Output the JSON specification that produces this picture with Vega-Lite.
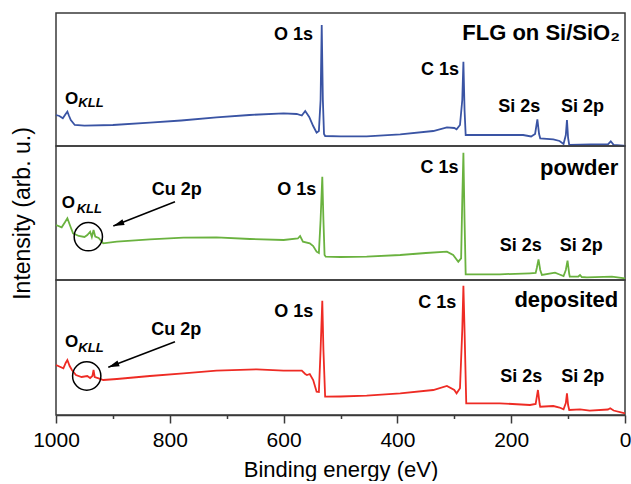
{
  "$schema": "https://vega.github.io/schema/vega-lite/v6.json",
  "background": "white",
  "padding": {"left": 10, "top": 12, "right": 5, "bottom": 0},
  "spacing": 0,
  "bounds": "flush",
  "config": {
    "concat": {"spacing": 0},
    "view": {"stroke": "#3a3a3a", "strokeWidth": 1.5},
    "font": "Liberation Sans",
    "text": {"font": "Liberation Sans", "color": "#000"},
    "axis": {"labelFont": "Liberation Sans", "titleFont": "Liberation Sans", "labelColor": "#000", "titleColor": "#000", "titleFontWeight": "normal", "domainColor": "#3a3a3a", "tickColor": "#3a3a3a", "grid": false}
  },
  "datasets": {
    "spectra": [
      {"sample":"FLG","energy":1000,"intensity":31},{"sample":"FLG","energy":994,"intensity":30},{"sample":"FLG","energy":988,"intensity":27.7},{"sample":"FLG","energy":983,"intensity":32},{"sample":"FLG","energy":980,"intensity":34.3},{"sample":"FLG","energy":977,"intensity":30},{"sample":"FLG","energy":974,"intensity":26},{"sample":"FLG","energy":967,"intensity":21},{"sample":"FLG","energy":950,"intensity":20.3},{"sample":"FLG","energy":900,"intensity":21},{"sample":"FLG","energy":835,"intensity":23.3},{"sample":"FLG","energy":780,"intensity":25.5},{"sample":"FLG","energy":718,"intensity":28.7},{"sample":"FLG","energy":660,"intensity":31},{"sample":"FLG","energy":600,"intensity":32.7},{"sample":"FLG","energy":577,"intensity":32},{"sample":"FLG","energy":568,"intensity":30.5},{"sample":"FLG","energy":562,"intensity":35},{"sample":"FLG","energy":555,"intensity":29},{"sample":"FLG","energy":548,"intensity":20},{"sample":"FLG","energy":542,"intensity":13.3},{"sample":"FLG","energy":538,"intensity":15},{"sample":"FLG","energy":535,"intensity":46},{"sample":"FLG","energy":533,"intensity":121},{"sample":"FLG","energy":531,"intensity":46},{"sample":"FLG","energy":529,"intensity":12},{"sample":"FLG","energy":527,"intensity":10},{"sample":"FLG","energy":500,"intensity":9.7},{"sample":"FLG","energy":454,"intensity":9.7},{"sample":"FLG","energy":395,"intensity":11.7},{"sample":"FLG","energy":337,"intensity":15},{"sample":"FLG","energy":313,"intensity":18.7},{"sample":"FLG","energy":300,"intensity":18},{"sample":"FLG","energy":296,"intensity":16.7},{"sample":"FLG","energy":290,"intensity":21},{"sample":"FLG","energy":286,"intensity":46},{"sample":"FLG","energy":284,"intensity":84.3},{"sample":"FLG","energy":282,"intensity":36},{"sample":"FLG","energy":280,"intensity":11},{"sample":"FLG","energy":250,"intensity":11},{"sample":"FLG","energy":220,"intensity":11},{"sample":"FLG","energy":179,"intensity":11},{"sample":"FLG","energy":165,"intensity":9.5},{"sample":"FLG","energy":158,"intensity":12},{"sample":"FLG","energy":154,"intensity":26.7},{"sample":"FLG","energy":151,"intensity":12},{"sample":"FLG","energy":149,"intensity":7.7},{"sample":"FLG","energy":126,"intensity":6.7},{"sample":"FLG","energy":115,"intensity":5},{"sample":"FLG","energy":108,"intensity":2},{"sample":"FLG","energy":104,"intensity":11},{"sample":"FLG","energy":102,"intensity":26},{"sample":"FLG","energy":100,"intensity":8},{"sample":"FLG","energy":98,"intensity":1},{"sample":"FLG","energy":60,"intensity":1.5},{"sample":"FLG","energy":30,"intensity":1.7},{"sample":"FLG","energy":25,"intensity":4.7},{"sample":"FLG","energy":20,"intensity":1.2},{"sample":"FLG","energy":3,"intensity":0.3},{"sample":"FLG","energy":0,"intensity":0},
      {"sample":"powder","energy":1000,"intensity":55},{"sample":"powder","energy":990,"intensity":52.7},{"sample":"powder","energy":984,"intensity":58},{"sample":"powder","energy":980,"intensity":61.7},{"sample":"powder","energy":975,"intensity":54},{"sample":"powder","energy":970,"intensity":46.7},{"sample":"powder","energy":960,"intensity":44},{"sample":"powder","energy":950,"intensity":43},{"sample":"powder","energy":945,"intensity":45},{"sample":"powder","energy":940,"intensity":48.3},{"sample":"powder","energy":937,"intensity":43},{"sample":"powder","energy":934,"intensity":50},{"sample":"powder","energy":931,"intensity":43.3},{"sample":"powder","energy":925,"intensity":42},{"sample":"powder","energy":917,"intensity":36.7},{"sample":"powder","energy":893,"intensity":38.3},{"sample":"powder","energy":835,"intensity":40.7},{"sample":"powder","energy":776,"intensity":42.3},{"sample":"powder","energy":718,"intensity":42.7},{"sample":"powder","energy":659,"intensity":41},{"sample":"powder","energy":600,"intensity":40},{"sample":"powder","energy":575,"intensity":41.5},{"sample":"powder","energy":571,"intensity":44},{"sample":"powder","energy":566,"intensity":38.3},{"sample":"powder","energy":554,"intensity":36.7},{"sample":"powder","energy":548,"intensity":34},{"sample":"powder","energy":542,"intensity":28.3},{"sample":"powder","energy":538,"intensity":27},{"sample":"powder","energy":535,"intensity":60},{"sample":"powder","energy":532,"intensity":103.3},{"sample":"powder","energy":530,"intensity":60},{"sample":"powder","energy":528,"intensity":25},{"sample":"powder","energy":526,"intensity":23.3},{"sample":"powder","energy":500,"intensity":23},{"sample":"powder","energy":454,"intensity":23.3},{"sample":"powder","energy":395,"intensity":25},{"sample":"powder","energy":350,"intensity":27},{"sample":"powder","energy":313,"intensity":28.3},{"sample":"powder","energy":302,"intensity":25},{"sample":"powder","energy":293,"intensity":18.3},{"sample":"powder","energy":288,"intensity":21.7},{"sample":"powder","energy":286,"intensity":80},{"sample":"powder","energy":284,"intensity":127.3},{"sample":"powder","energy":282,"intensity":60},{"sample":"powder","energy":280,"intensity":5.7},{"sample":"powder","energy":250,"intensity":5.7},{"sample":"powder","energy":220,"intensity":5.7},{"sample":"powder","energy":167,"intensity":6.7},{"sample":"powder","energy":157,"intensity":7},{"sample":"powder","energy":155,"intensity":12},{"sample":"powder","energy":152,"intensity":20.7},{"sample":"powder","energy":149,"intensity":10},{"sample":"powder","energy":146,"intensity":5},{"sample":"powder","energy":123,"intensity":7.3},{"sample":"powder","energy":115,"intensity":5.5},{"sample":"powder","energy":108,"intensity":4},{"sample":"powder","energy":104,"intensity":10},{"sample":"powder","energy":101,"intensity":19.3},{"sample":"powder","energy":98,"intensity":6},{"sample":"powder","energy":97,"intensity":3.3},{"sample":"powder","energy":82,"intensity":3.5},{"sample":"powder","energy":79,"intensity":5},{"sample":"powder","energy":76,"intensity":3},{"sample":"powder","energy":67,"intensity":2.7},{"sample":"powder","energy":23,"intensity":3.3},{"sample":"powder","energy":0,"intensity":1.7},
      {"sample":"deposited","energy":1000,"intensity":50},{"sample":"deposited","energy":987,"intensity":46.7},{"sample":"deposited","energy":983,"intensity":52},{"sample":"deposited","energy":980,"intensity":55},{"sample":"deposited","energy":976,"intensity":49},{"sample":"deposited","energy":972,"intensity":45},{"sample":"deposited","energy":965,"intensity":40},{"sample":"deposited","energy":955,"intensity":38},{"sample":"deposited","energy":945,"intensity":39},{"sample":"deposited","energy":940,"intensity":37},{"sample":"deposited","energy":936,"intensity":39},{"sample":"deposited","energy":934,"intensity":45},{"sample":"deposited","energy":932,"intensity":38},{"sample":"deposited","energy":925,"intensity":36.7},{"sample":"deposited","energy":917,"intensity":35},{"sample":"deposited","energy":893,"intensity":36},{"sample":"deposited","energy":835,"intensity":39},{"sample":"deposited","energy":776,"intensity":41.7},{"sample":"deposited","energy":718,"intensity":44.3},{"sample":"deposited","energy":647,"intensity":45.7},{"sample":"deposited","energy":600,"intensity":44.3},{"sample":"deposited","energy":568,"intensity":44.3},{"sample":"deposited","energy":562,"intensity":41},{"sample":"deposited","energy":559,"intensity":40},{"sample":"deposited","energy":554,"intensity":41},{"sample":"deposited","energy":548,"intensity":35},{"sample":"deposited","energy":542,"intensity":23.3},{"sample":"deposited","energy":538,"intensity":23},{"sample":"deposited","energy":535,"intensity":65},{"sample":"deposited","energy":532,"intensity":114.3},{"sample":"deposited","energy":530,"intensity":65},{"sample":"deposited","energy":527,"intensity":18.3},{"sample":"deposited","energy":500,"intensity":18.5},{"sample":"deposited","energy":454,"intensity":19.3},{"sample":"deposited","energy":395,"intensity":21.7},{"sample":"deposited","energy":337,"intensity":25},{"sample":"deposited","energy":313,"intensity":29},{"sample":"deposited","energy":300,"intensity":25},{"sample":"deposited","energy":296,"intensity":21.7},{"sample":"deposited","energy":290,"intensity":26.7},{"sample":"deposited","energy":286,"intensity":85},{"sample":"deposited","energy":284,"intensity":129.3},{"sample":"deposited","energy":282,"intensity":85},{"sample":"deposited","energy":279,"intensity":11.7},{"sample":"deposited","energy":220,"intensity":11.7},{"sample":"deposited","energy":167,"intensity":10},{"sample":"deposited","energy":157,"intensity":11},{"sample":"deposited","energy":153,"intensity":25},{"sample":"deposited","energy":150,"intensity":11},{"sample":"deposited","energy":149,"intensity":8.3},{"sample":"deposited","energy":126,"intensity":9},{"sample":"deposited","energy":115,"intensity":7.5},{"sample":"deposited","energy":108,"intensity":5.7},{"sample":"deposited","energy":104,"intensity":12},{"sample":"deposited","energy":102,"intensity":21.7},{"sample":"deposited","energy":100,"intensity":10},{"sample":"deposited","energy":98,"intensity":5},{"sample":"deposited","energy":79,"intensity":5.7},{"sample":"deposited","energy":62,"intensity":4.3},{"sample":"deposited","energy":30,"intensity":5.5},{"sample":"deposited","energy":26,"intensity":6.7},{"sample":"deposited","energy":20,"intensity":4.5},{"sample":"deposited","energy":0,"intensity":1.7}
    ],
    "peaks": [
      {"sample":"FLG","label":"O 1s","energy":582.6,"intensity":106},
      {"sample":"FLG","label":"C 1s","energy":325.1,"intensity":71},
      {"sample":"FLG","label":"Si 2s","energy":185.8,"intensity":34.3},
      {"sample":"FLG","label":"Si 2p","energy":74.7,"intensity":34.3},
      {"sample":"powder","label":"O 1s","energy":577,"intensity":85},
      {"sample":"powder","label":"Cu 2p","energy":787.9,"intensity":85},
      {"sample":"powder","label":"C 1s","energy":326,"intensity":106.7},
      {"sample":"powder","label":"Si 2s","energy":183.1,"intensity":29.3},
      {"sample":"powder","label":"Si 2p","energy":76.8,"intensity":29.3},
      {"sample":"deposited","label":"O 1s","energy":582.3,"intensity":97.7},
      {"sample":"deposited","label":"Cu 2p","energy":788.8,"intensity":80},
      {"sample":"deposited","label":"C 1s","energy":330,"intensity":106.7},
      {"sample":"deposited","label":"Si 2s","energy":182.2,"intensity":33.3},
      {"sample":"deposited","label":"Si 2p","energy":74.2,"intensity":33.3}
    ],
    "titles": [
      {"sample":"FLG","label":"FLG on Si/SiO₂","energy":8.8,"intensity":106},
      {"sample":"powder","label":"powder","energy":11.8,"intensity":105},
      {"sample":"deposited","label":"deposited","energy":11.8,"intensity":107.7}
    ],
    "okllMain": [
      {"sample":"FLG","label":"O","energy":984.2,"intensity":42},
      {"sample":"powder","label":"O","energy":990,"intensity":71.7},
      {"sample":"deposited","label":"O","energy":984.2,"intensity":68.3}
    ],
    "okllSub": [
      {"sample":"FLG","label":"KLL","energy":960.8,"intensity":38.7},
      {"sample":"powder","label":"KLL","energy":963.6,"intensity":67.3},
      {"sample":"deposited","label":"KLL","energy":960.8,"intensity":63.3}
    ],
    "arrows": [
      {"sample":"powder","energy":899.3,"intensity":54,"energy2":790.9,"intensity2":78.3},
      {"sample":"deposited","energy":908.1,"intensity":47.7,"energy2":790.9,"intensity2":73.3}
    ],
    "circles": [
      {"sample":"powder","energy":943.2,"intensity":43.3},
      {"sample":"deposited","energy":946,"intensity":39}
    ]
  },
  "vconcat": [
    {
      "width": 569, "height": 133,
      "encoding": {
        "x": {"field":"energy","type":"quantitative","scale":{"domain":[0,1000],"reverse":true,"nice":false},"axis":null},
        "y": {"field":"intensity","type":"quantitative","scale":{"domain":[0,133],"nice":false,"zero":false},"axis":null}
      },
      "layer": [
        {"data":{"name":"spectra"},"transform":[{"filter":"datum.sample === 'FLG'"}],"mark":{"type":"line","color":"#3a54a4","strokeWidth":1.8},"encoding":{}},
        {"data":{"name":"peaks"},"transform":[{"filter":"datum.sample === 'FLG'"}],"mark":{"type":"text","fontWeight":"bold","fontSize":18,"align":"center","baseline":"alphabetic"},"encoding":{"text":{"field":"label"}}},
        {"data":{"name":"titles"},"transform":[{"filter":"datum.sample === 'FLG'"}],"mark":{"type":"text","fontWeight":"bold","fontSize":22,"align":"right","baseline":"alphabetic"},"encoding":{"text":{"field":"label"}}},
        {"data":{"name":"okllMain"},"transform":[{"filter":"datum.sample === 'FLG'"}],"mark":{"type":"text","fontWeight":"bold","fontSize":17,"align":"left","baseline":"alphabetic"},"encoding":{"text":{"field":"label"}}},
        {"data":{"name":"okllSub"},"transform":[{"filter":"datum.sample === 'FLG'"}],"mark":{"type":"text","fontWeight":"bold","fontStyle":"italic","fontSize":13,"align":"left","baseline":"alphabetic"},"encoding":{"text":{"field":"label"}}}
      ]
    },
    {
      "width": 569, "height": 134,
      "encoding": {
        "x": {"field":"energy","type":"quantitative","scale":{"domain":[0,1000],"reverse":true,"nice":false},"axis":null},
        "y": {"field":"intensity","type":"quantitative","scale":{"domain":[0,134],"nice":false,"zero":false},"axis":{"title":"Intensity (arb. u.)","labels":false,"ticks":false,"domain":false,"titleFontSize":23,"titlePadding":22}}
      },
      "layer": [
        {"data":{"name":"spectra"},"transform":[{"filter":"datum.sample === 'powder'"}],"mark":{"type":"line","color":"#6ab23f","strokeWidth":1.8},"encoding":{}},
        {"data":{"name":"peaks"},"transform":[{"filter":"datum.sample === 'powder'"}],"mark":{"type":"text","fontWeight":"bold","fontSize":18,"align":"center","baseline":"alphabetic"},"encoding":{"text":{"field":"label"}}},
        {"data":{"name":"titles"},"transform":[{"filter":"datum.sample === 'powder'"}],"mark":{"type":"text","fontWeight":"bold","fontSize":22,"align":"right","baseline":"alphabetic"},"encoding":{"text":{"field":"label"}}},
        {"data":{"name":"okllMain"},"transform":[{"filter":"datum.sample === 'powder'"}],"mark":{"type":"text","fontWeight":"bold","fontSize":17,"align":"left","baseline":"alphabetic"},"encoding":{"text":{"field":"label"}}},
        {"data":{"name":"okllSub"},"transform":[{"filter":"datum.sample === 'powder'"}],"mark":{"type":"text","fontWeight":"bold","fontStyle":"italic","fontSize":13,"align":"left","baseline":"alphabetic"},"encoding":{"text":{"field":"label"}}},
        {"data":{"name":"arrows"},"transform":[{"filter":"datum.sample === 'powder'"}],"mark":{"type":"rule","color":"#000","strokeWidth":1.5},"encoding":{"x2":{"field":"energy2"},"y2":{"field":"intensity2"}}},
        {"data":{"name":"arrows"},"transform":[{"filter":"datum.sample === 'powder'"}],"mark":{"type":"point","shape":"M0,0L2,-0.55L2,0.55Z","filled":true,"color":"#000","opacity":1,"size":121,"angle":339}},
        {"data":{"name":"circles"},"transform":[{"filter":"datum.sample === 'powder'"}],"mark":{"type":"point","shape":"circle","filled":false,"color":"#000","opacity":1,"strokeWidth":1.5,"size":800}}
      ]
    },
    {
      "width": 569, "height": 135,
      "encoding": {
        "x": {"field":"energy","type":"quantitative","scale":{"domain":[0,1000],"reverse":true,"nice":false},
          "axis":{"values":[0,100,200,300,400,500,600,700,800,900,1000],"format":"d","labelExpr":"datum.value % 200 === 0 ? datum.label : ''","tickSize":{"condition":{"test":"datum.value % 200 === 0","value":8},"value":3.5},"tickWidth":1.5,"domainWidth":1.5,"labelFontSize":21,"labelPadding":6,"labelFlush":false,"labelOverlap":false,"labelBound":false,"title":"Binding energy (eV)","titleFontSize":22,"titlePadding":9}},
        "y": {"field":"intensity","type":"quantitative","scale":{"domain":[0,135],"nice":false,"zero":false},"axis":null}
      },
      "layer": [
        {"data":{"name":"spectra"},"transform":[{"filter":"datum.sample === 'deposited'"}],"mark":{"type":"line","color":"#ee2b24","strokeWidth":1.8},"encoding":{}},
        {"data":{"name":"peaks"},"transform":[{"filter":"datum.sample === 'deposited'"}],"mark":{"type":"text","fontWeight":"bold","fontSize":18,"align":"center","baseline":"alphabetic"},"encoding":{"text":{"field":"label"}}},
        {"data":{"name":"titles"},"transform":[{"filter":"datum.sample === 'deposited'"}],"mark":{"type":"text","fontWeight":"bold","fontSize":22,"align":"right","baseline":"alphabetic"},"encoding":{"text":{"field":"label"}}},
        {"data":{"name":"okllMain"},"transform":[{"filter":"datum.sample === 'deposited'"}],"mark":{"type":"text","fontWeight":"bold","fontSize":17,"align":"left","baseline":"alphabetic"},"encoding":{"text":{"field":"label"}}},
        {"data":{"name":"okllSub"},"transform":[{"filter":"datum.sample === 'deposited'"}],"mark":{"type":"text","fontWeight":"bold","fontStyle":"italic","fontSize":13,"align":"left","baseline":"alphabetic"},"encoding":{"text":{"field":"label"}}},
        {"data":{"name":"arrows"},"transform":[{"filter":"datum.sample === 'deposited'"}],"mark":{"type":"rule","color":"#000","strokeWidth":1.5},"encoding":{"x2":{"field":"energy2"},"y2":{"field":"intensity2"}}},
        {"data":{"name":"arrows"},"transform":[{"filter":"datum.sample === 'deposited'"}],"mark":{"type":"point","shape":"M0,0L2,-0.55L2,0.55Z","filled":true,"color":"#000","opacity":1,"size":121,"angle":339}},
        {"data":{"name":"circles"},"transform":[{"filter":"datum.sample === 'deposited'"}],"mark":{"type":"point","shape":"circle","filled":false,"color":"#000","opacity":1,"strokeWidth":1.5,"size":800}}
      ]
    }
  ]
}
